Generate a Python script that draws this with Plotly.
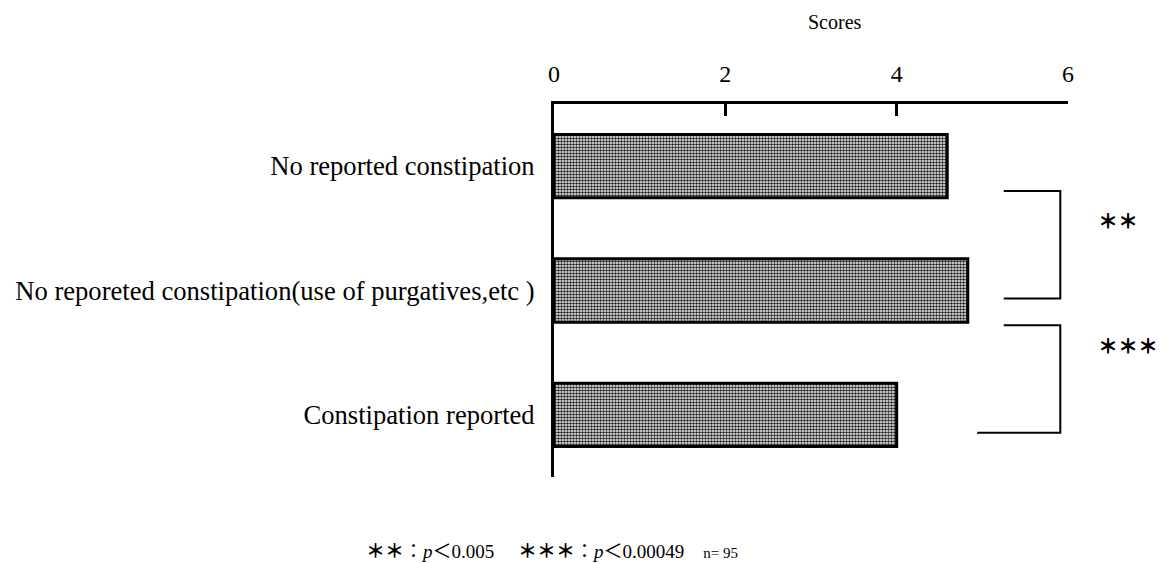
import plotly.graph_objects as go

categories = ["No reported constipation",
              "No reporeted constipation(use of purgatives,etc )",
              "Constipation reported"]
scores = [4.59, 4.83, 4.0]
tick_vals = [0, 2, 4, 6]
tick_text = ["0", "2", "4", "6"]
sig_labels = ["＊＊", "＊＊＊"]
footnote = ("<b>＊＊</b>：<i>p</i>＜0.005　 <b>＊＊＊</b>：<i>p</i>＜0.00049　"
            "<span style='font-size:15px'>n= 95</span>")

serif = "Times New Roman, Liberation Serif, serif"

# page has an 8px body margin; plot area spans page x 554..1068, y 104..477
W, H = 1159, 556
X0, Y0 = 554, 104
PW, PH = 514, 373
L, T = X0 - 8, Y0 - 8

fig = go.Figure()
fig.add_trace(go.Bar(
    x=scores, y=list(range(len(categories))), orientation="h", width=0.51,
    marker=dict(color="white",
                line=dict(color="black", width=3),
                pattern=dict(shape=".", size=3, solidity=0.55, fgcolor="#222222",
                             bgcolor="white", fillmode="replace")),
    showlegend=False, hoverinfo="x"))

fig.update_layout(
    width=W, height=H,
    margin=dict(l=L, r=W - L - PW, t=T, b=H - T - PH, autoexpand=False),
    plot_bgcolor="white", paper_bgcolor="white",
    font=dict(family=serif, color="black"),
    xaxis=dict(side="top", range=[0, 6], tickvals=tick_vals, ticktext=tick_text,
               ticks="inside", ticklen=12, tickwidth=3, tickcolor="black",
               showline=True, linewidth=3, linecolor="black", showgrid=False,
               zeroline=False, tickfont=dict(size=24, family=serif),
               ticklabelstandoff=9, automargin=False),
    yaxis=dict(range=[2.5, -0.5], tickvals=list(range(len(categories))),
               ticktext=categories, showline=True, linewidth=3, linecolor="black",
               showgrid=False, zeroline=False, ticks="",
               tickfont=dict(size=26.6, family=serif), ticklabelstandoff=11,
               automargin=False),
)

def px(xp):
    return (xp - X0) / PW

def py(yp):
    return 1 - (yp - Y0) / PH

fig.add_annotation(text="Scores", xref="paper", yref="paper", x=px(835), y=py(22),
                   yanchor="middle", showarrow=False,
                   font=dict(size=20, family=serif, color="black"))

# brackets (data coordinates)
bx1, bx0a, bx0b = 5.91, 5.25, 4.94
fig.add_shape(type="path", xref="x", yref="y",
              path=f"M {bx0a},0.2 L {bx1},0.2 L {bx1},1.065 L {bx0a},1.065",
              line=dict(color="black", width=2))
fig.add_shape(type="path", xref="x", yref="y",
              path=f"M {bx0a},1.28 L {bx1},1.28 L {bx1},2.145 L {bx0b},2.145",
              line=dict(color="black", width=2))

sig_font = dict(size=20, family="Noto Sans CJK JP", color="black", weight=900)
fig.add_annotation(text=sig_labels[0], xref="paper", yref="paper", x=px(1096), y=py(204),
                   xanchor="left", showarrow=False, font=sig_font)
fig.add_annotation(text=sig_labels[1], xref="paper", yref="paper", x=px(1096), y=py(362),
                   xanchor="left", showarrow=False, font=sig_font)

fig.add_annotation(text=footnote, xref="paper", yref="paper", x=px(552), xanchor="center",
                   y=py(551), yanchor="middle", showarrow=False,
                   font=dict(size=19, family="Liberation Serif, Noto Sans CJK JP",
                             color="black"))

fig.write_html("out.html")
